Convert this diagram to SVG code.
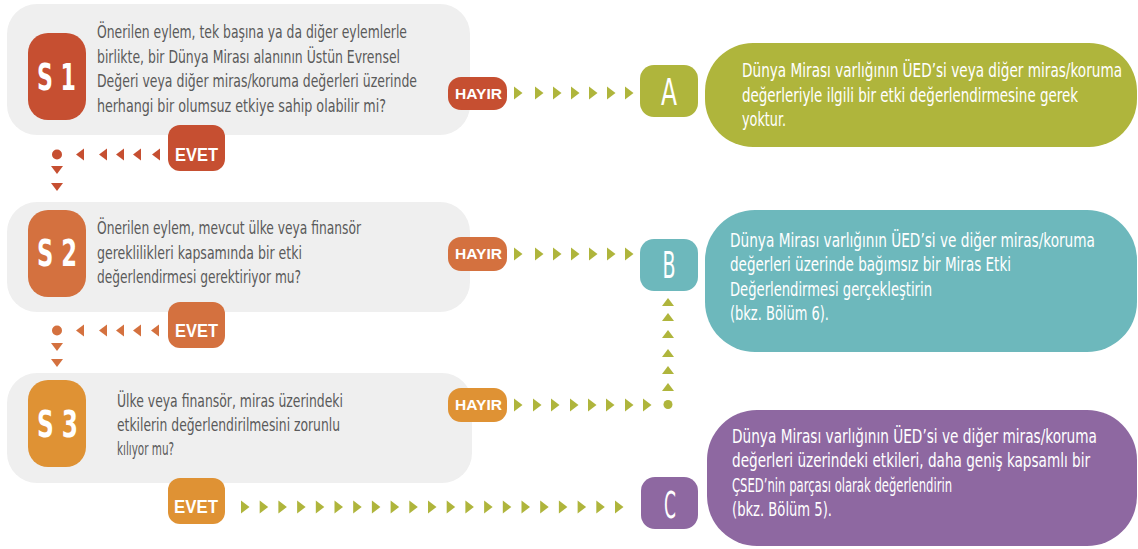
<svg xmlns="http://www.w3.org/2000/svg" width="1138" height="549" viewBox="0 0 1138 549">
<defs>
<style>
.panel{fill:#efefef}
.q{font-family:"Liberation Sans Narrow","DejaVu Sans Condensed","Liberation Sans",sans-serif;font-size:17.5px;fill:#5a5a5a}
.r{font-family:"Liberation Sans Narrow","DejaVu Sans Condensed","Liberation Sans",sans-serif;font-size:20px;fill:#ffffff}
.big{font-family:"Liberation Sans Narrow","DejaVu Sans Condensed","Liberation Sans",sans-serif;font-size:38px;fill:#ffffff;font-weight:bold}
.let{font-family:"Liberation Sans Narrow","DejaVu Sans Condensed","Liberation Sans",sans-serif;font-size:37px;fill:#ffffff}
.lab{font-family:"Liberation Sans","Open Sans",sans-serif;font-weight:bold;fill:#ffffff}
.red{fill:#c64f31}
.ora{fill:#d4713f}
.yel{fill:#df9234}
.grn{fill:#afb53c}
.teal{fill:#6db8bc}
.pur{fill:#8e68a1}
</style>
<path id="tr" d="M-4,-6.5 L4.5,0 L-4,6.5 Z"/>
<path id="tl" d="M4,-6 L-4,0 L4,6 Z"/>
<path id="td" d="M-6,-4 L6,-4 L0,4 Z"/>
<path id="tu" d="M-6,4 L6,4 L0,-4 Z"/>
</defs>

<g id="S1">
<rect class="panel" x="7" y="4" width="463" height="131" rx="30"/>
<rect class="red" x="28" y="33" width="58" height="87" rx="20"/>
<text class="big" x="37" y="90" textLength="39" lengthAdjust="spacingAndGlyphs">S 1</text>
<text class="q" x="97" y="38" textLength="310" lengthAdjust="spacingAndGlyphs">Önerilen eylem, tek başına ya da diğer eylemlerle</text>
<text class="q" x="97" y="62.5" textLength="303" lengthAdjust="spacingAndGlyphs">birlikte, bir Dünya Mirası alanının Üstün Evrensel</text>
<text class="q" x="97" y="87" textLength="320" lengthAdjust="spacingAndGlyphs">Değeri veya diğer miras/koruma değerleri üzerinde</text>
<text class="q" x="97" y="111.5" textLength="289" lengthAdjust="spacingAndGlyphs">herhangi bir olumsuz etkiye sahip olabilir mi?</text>
</g>

<g id="S2">
<rect class="panel" x="7" y="202" width="463" height="110" rx="30"/>
<rect class="ora" x="28" y="210" width="58" height="87" rx="20"/>
<text class="big" x="37" y="266" textLength="40" lengthAdjust="spacingAndGlyphs">S 2</text>
<text class="q" x="97" y="234" textLength="264" lengthAdjust="spacingAndGlyphs">Önerilen eylem, mevcut ülke veya finansör</text>
<text class="q" x="97" y="258.5" textLength="205" lengthAdjust="spacingAndGlyphs">gereklilikleri kapsamında bir etki</text>
<text class="q" x="97" y="283" textLength="204" lengthAdjust="spacingAndGlyphs">değerlendirmesi gerektiriyor mu?</text>
</g>

<g id="S3">
<rect class="panel" x="7" y="373" width="465" height="110" rx="30"/>
<rect class="yel" x="28" y="380" width="58" height="87" rx="20"/>
<text class="big" x="37" y="437" textLength="41" lengthAdjust="spacingAndGlyphs">S 3</text>
<text class="q" x="117" y="406.5" textLength="226" lengthAdjust="spacingAndGlyphs">Ülke veya finansör, miras üzerindeki</text>
<text class="q" x="117" y="431" textLength="223" lengthAdjust="spacingAndGlyphs">etkilerin değerlendirilmesini zorunlu</text>
<text class="q" x="117" y="455" textLength="57" lengthAdjust="spacingAndGlyphs">kılıyor mu?</text>
</g>

<g id="connectors">
<g class="red">
<circle cx="57" cy="154.5" r="5"/>
<use href="#tl" x="80" y="154.5"/><use href="#tl" x="103" y="154.5"/><use href="#tl" x="120" y="154.5"/><use href="#tl" x="137" y="154.5"/><use href="#tl" x="156" y="154.5"/>
<use href="#td" x="57" y="170"/><use href="#td" x="57" y="187"/>
</g>
<g class="ora">
<circle cx="57" cy="330.5" r="5"/>
<use href="#tl" x="80" y="330.5"/><use href="#tl" x="103" y="330.5"/><use href="#tl" x="120" y="330.5"/><use href="#tl" x="137" y="330.5"/><use href="#tl" x="155" y="330.5"/>
<use href="#td" x="57" y="347"/><use href="#td" x="57" y="363"/>
</g>
<g class="grn">
<use href="#tr" x="518" y="93"/><use href="#tr" x="539" y="93"/><use href="#tr" x="557" y="93"/><use href="#tr" x="575" y="93"/><use href="#tr" x="593" y="93"/><use href="#tr" x="611" y="93"/><use href="#tr" x="629" y="93"/>
<use href="#tr" x="518" y="254"/><use href="#tr" x="539" y="254"/><use href="#tr" x="557" y="254"/><use href="#tr" x="575" y="254"/><use href="#tr" x="593" y="254"/><use href="#tr" x="611" y="254"/><use href="#tr" x="629" y="254"/>
<use href="#tr" x="518" y="405"/><use href="#tr" x="537" y="405"/><use href="#tr" x="555" y="405"/><use href="#tr" x="574" y="405"/><use href="#tr" x="592" y="405"/><use href="#tr" x="610" y="405"/><use href="#tr" x="629" y="405"/><use href="#tr" x="647" y="405"/>
<circle cx="668" cy="404.5" r="4.5"/>
<use href="#tu" x="668" y="387"/><use href="#tu" x="668" y="370"/><use href="#tu" x="668" y="353"/><use href="#tu" x="668" y="334"/><use href="#tu" x="668" y="317"/><use href="#tu" x="668" y="302"/>
<use href="#tr" x="245" y="507"/><use href="#tr" x="263.7" y="507"/><use href="#tr" x="282.4" y="507"/><use href="#tr" x="301.1" y="507"/><use href="#tr" x="319.8" y="507"/><use href="#tr" x="338.5" y="507"/><use href="#tr" x="357.2" y="507"/><use href="#tr" x="375.9" y="507"/><use href="#tr" x="394.6" y="507"/><use href="#tr" x="413.3" y="507"/><use href="#tr" x="432" y="507"/><use href="#tr" x="450.7" y="507"/><use href="#tr" x="469.4" y="507"/><use href="#tr" x="488.1" y="507"/><use href="#tr" x="506.8" y="507"/><use href="#tr" x="525.5" y="507"/><use href="#tr" x="544.2" y="507"/><use href="#tr" x="562.9" y="507"/><use href="#tr" x="581.6" y="507"/><use href="#tr" x="600.3" y="507"/><use href="#tr" x="619" y="507"/>
</g>
</g>

<g id="EVET1">
<rect class="red" x="168" y="125" width="57" height="46" rx="12"/>
<text class="lab" x="175" y="161" font-size="19" textLength="43" lengthAdjust="spacingAndGlyphs">EVET</text>
</g>
<g id="EVET2">
<rect class="ora" x="168" y="302" width="57" height="46" rx="12"/>
<text class="lab" x="175" y="337" font-size="19" textLength="43" lengthAdjust="spacingAndGlyphs">EVET</text>
</g>
<g id="EVET3">
<rect class="yel" x="168" y="478" width="57" height="46" rx="12"/>
<text class="lab" x="174" y="513" font-size="19" textLength="44" lengthAdjust="spacingAndGlyphs">EVET</text>
</g>

<g id="HAYIR1">
<rect class="red" x="448" y="77" width="59" height="33" rx="13"/>
<text class="lab" x="455" y="98.5" font-size="14.5" textLength="47" lengthAdjust="spacingAndGlyphs">HAYIR</text>
</g>
<g id="HAYIR2">
<rect class="ora" x="448" y="237" width="59" height="34" rx="13"/>
<text class="lab" x="455" y="259" font-size="14.5" textLength="47" lengthAdjust="spacingAndGlyphs">HAYIR</text>
</g>
<g id="HAYIR3">
<rect class="yel" x="448" y="388" width="59" height="34" rx="13"/>
<text class="lab" x="455" y="410" font-size="14.5" textLength="47" lengthAdjust="spacingAndGlyphs">HAYIR</text>
</g>

<g id="A">
<rect class="grn" x="640" y="65" width="58" height="52" rx="14"/>
<text class="let" x="669" y="105" text-anchor="middle" textLength="16" lengthAdjust="spacingAndGlyphs">A</text>
<rect class="grn" x="705" y="43" width="432" height="104" rx="48"/>
<text class="r" x="742" y="77" textLength="380" lengthAdjust="spacingAndGlyphs">Dünya Mirası varlığının ÜED’si veya diğer miras/koruma</text>
<text class="r" x="742" y="101.5" textLength="336" lengthAdjust="spacingAndGlyphs">değerleriyle ilgili bir etki değerlendirmesine gerek</text>
<text class="r" x="742" y="126" textLength="44" lengthAdjust="spacingAndGlyphs">yoktur.</text>
</g>

<g id="B">
<rect class="teal" x="640" y="239" width="58" height="52" rx="14"/>
<text class="let" x="669" y="278" text-anchor="middle" textLength="13" lengthAdjust="spacingAndGlyphs">B</text>
<rect class="teal" x="705" y="210" width="432" height="142" rx="50"/>
<text class="r" x="730" y="246.5" textLength="365" lengthAdjust="spacingAndGlyphs">Dünya Mirası varlığının ÜED’si ve diğer miras/koruma</text>
<text class="r" x="730" y="271" textLength="281" lengthAdjust="spacingAndGlyphs">değerleri üzerinde bağımsız bir Miras Etki</text>
<text class="r" x="730" y="295.5" textLength="202" lengthAdjust="spacingAndGlyphs">Değerlendirmesi gerçekleştirin</text>
<text class="r" x="730" y="320" textLength="99" lengthAdjust="spacingAndGlyphs">(bkz. Bölüm 6).</text>
</g>

<g id="C">
<rect class="pur" x="641" y="477" width="57" height="52" rx="14"/>
<text class="let" x="670" y="518" text-anchor="middle" textLength="12" lengthAdjust="spacingAndGlyphs">C</text>
<rect class="pur" x="707" y="410" width="430" height="136" rx="50"/>
<text class="r" x="732" y="443" textLength="365" lengthAdjust="spacingAndGlyphs">Dünya Mirası varlığının ÜED’si ve diğer miras/koruma</text>
<text class="r" x="732" y="467" textLength="358" lengthAdjust="spacingAndGlyphs">değerleri üzerindeki etkileri, daha geniş kapsamlı bir</text>
<text class="r" x="732" y="491.5" textLength="220" lengthAdjust="spacingAndGlyphs">ÇSED’nin parçası olarak değerlendirin</text>
<text class="r" x="732" y="516" textLength="100" lengthAdjust="spacingAndGlyphs">(bkz. Bölüm 5).</text>
</g>
</svg>
